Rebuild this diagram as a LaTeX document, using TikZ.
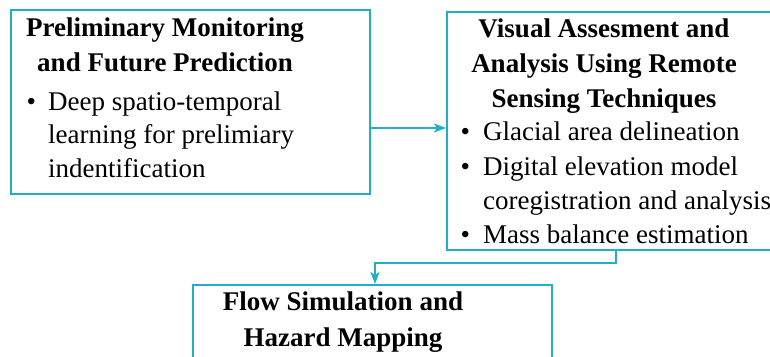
\documentclass[tikz,border=0pt]{standalone}
\usepackage{fontspec}
\setmainfont{LiberationSerif}[Extension=.ttf, UprightFont=*-Regular, BoldFont=*-Bold, ItalicFont=*-Italic, BoldItalicFont=*-BoldItalic]
\usetikzlibrary{arrows.meta}
\definecolor{boxline}{RGB}{32,174,200}
\newcommand{\bodysize}{\fontsize{27}{34}\selectfont}
\tikzset{
  box/.style={draw=boxline, line width=2pt, rectangle, inner sep=0pt},
  hd/.style={font=\bodysize\bfseries, anchor=base, inner sep=0pt},
  tx/.style={font=\bodysize, anchor=base west, inner sep=0pt},
  conn/.style={draw=boxline, line width=2pt, -{Stealth[length=12pt,width=9pt,inset=3pt]}},
}
\begin{document}
\begin{tikzpicture}[x=1pt, y=-1pt]
\clip (0,0) rectangle (770,356);

% frames
\node[box, minimum width=359.5pt, minimum height=183.5pt] (prelim) at (190.25,101.75) {};
\node[box, minimum width=343pt, minimum height=238pt] (visual) at (618.5,130.5) {};
\node[box, minimum width=359.5pt, minimum height=95pt] (flow) at (372.25,332.5) {};

% preliminary monitoring
\node[hd] (p1) at (165,36) {Preliminary Monitoring};
\node[hd] (p2) at (165,71) {and Future Prediction};
\node[tx] (pb1) at (26.5,110) {•};
\node[tx] (p3) at (48,110) {Deep spatio-temporal};
\node[tx] (p4) at (48,143) {learning for prelimiary};
\node[tx] (p5) at (48,177) {indentification};

% visual assessment
\node[hd] (v1) at (604,37) {Visual Assesment and};
\node[hd] (v2) at (604,72) {Analysis Using Remote};
\node[hd] (v3) at (604,107) {Sensing Techniques};
\node[tx] (vb1) at (460.5,140) {•};
\node[tx] (v4) at (483,140) {Glacial area delineation};
\node[tx] (vb2) at (460.5,175) {•};
\node[tx] (v5) at (483,175) {Digital elevation model};
\node[tx] (v6) at (483,209) {coregistration and analysis};
\node[tx] (vb3) at (460.5,243) {•};
\node[tx] (v7) at (483,243) {Mass balance estimation};

% flow simulation
\node[hd] (f1) at (343,310) {Flow Simulation and};
\node[hd] (f2) at (343,346) {Hazard Mapping};

% connectors
\coordinate (a1) at (0,128);
\coordinate (t1) at (615.5,263);
\coordinate (t2) at (375,263);
\draw[conn] (prelim.east |- a1) -- (visual.west |- a1);
\draw[conn] (visual.south -| t1) -- (t1) -- (t2) -- (flow.north -| t2);
\end{tikzpicture}
\end{document}
